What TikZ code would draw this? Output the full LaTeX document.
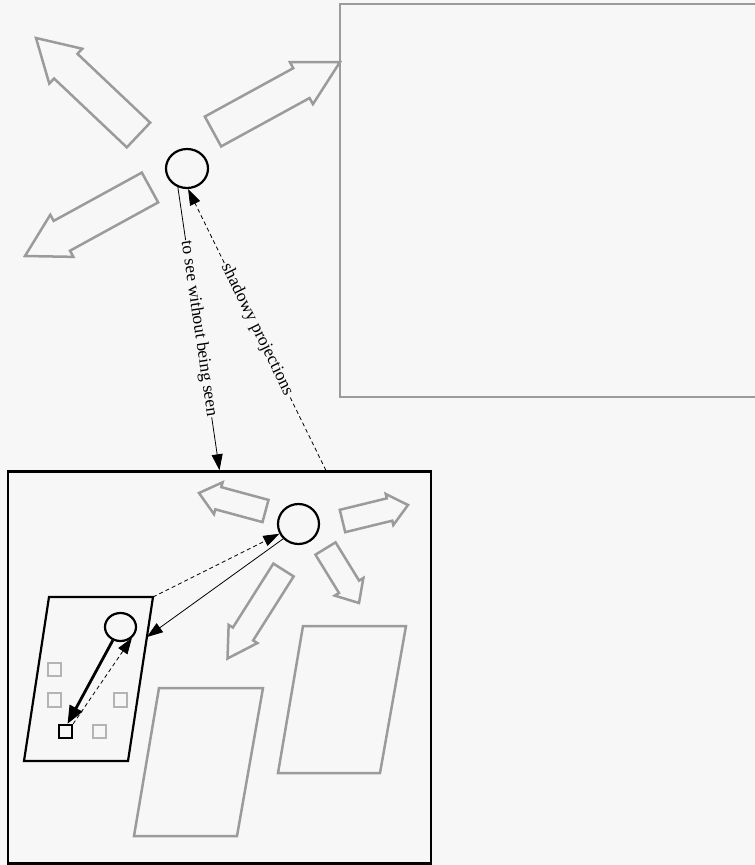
\documentclass[tikz,border=0pt]{standalone}
\usepackage{fontspec}
\setmainfont{Liberation Serif}
\usetikzlibrary{calc,arrows.meta,shapes.geometric}
\definecolor{bgc}{RGB}{247,247,247}
\definecolor{lgray}{RGB}{155,155,155}
\definecolor{sqgray}{RGB}{180,180,180}
\tikzset{
  garrow/.style={draw=lgray,line width=2.5pt},
  gshape/.style={draw=lgray,line width=2.5pt},
  blk/.style={draw=black,line width=2.2pt},
  oval/.style={ellipse,draw=black,line width=2.2pt,inner sep=0pt},
  conn/.style={line width=0.8pt,-{Triangle[length=16pt,width=11pt]}},
  dconn/.style={conn,dash pattern=on 4pt off 3pt},
  lbl/.style={fill=bgc,inner sep=1pt,font=\fontsize{17.5}{18}\selectfont,sloped},
  gsq/.style={draw=sqgray,line width=1.8pt,minimum size=13.5pt,inner sep=0pt},
  bsq/.style={draw=black,line width=2.2pt,minimum size=13pt,inner sep=0pt}
}
\newcommand\blockarrow[5]{%
  \coordinate (bat) at (#1);
  \coordinate (bap) at (#2);
  \coordinate (bah) at ($(bap)!#5!(bat)$);
  \draw[garrow] ($(bat)!#3!90:(bap)$) -- ($(bah)!#3!90:(bap)$) -- ($(bah)!#4!90:(bap)$) -- (bap) -- ($(bah)!#4!-90:(bap)$) -- ($(bah)!#3!-90:(bap)$) -- ($(bat)!#3!-90:(bap)$) -- cycle;
}
\begin{document}
\begin{tikzpicture}[x=1pt,y=-1pt]
\fill[bgc] (0,0) rectangle (755,865);
\useasboundingbox (0,0) rectangle (755,865);

% big gray rectangle top right
\draw[gshape] (340,4) rectangle (758,397);

% top arrows
\blockarrow{138.5,135}{36,38}{17pt}{24pt}{41pt}
\blockarrow{213,131.5}{340,62}{17pt}{24pt}{44pt}
\blockarrow{150,187.5}{25,256}{17pt}{24pt}{42pt}

% top circle
\node[oval,minimum width=42pt,minimum height=39pt] (tc) at (187,168.5) {};

% bottom box
\node[draw=black,line width=2.5pt,inner sep=0pt,minimum width=423pt,minimum height=392pt] (box) at (219.5,667.5) {};
\coordinate (bxd) at ($(box.north)!0.5!(box.north east)$);

% top connectors
\draw[conn] (tc.-116) -- node[lbl] {to see without being seen} (box.north);
\draw[dconn] (bxd) -- node[lbl] {shadowy projections} (tc.-87);

% bottom arrows
\blockarrow{265.5,511}{199,493}{11.5pt}{16.5pt}{20pt}
\blockarrow{342.5,521}{408,505}{11.5pt}{16pt}{19pt}
\blockarrow{325.5,548.5}{359,603}{11.8pt}{16.8pt}{19pt}
\blockarrow{283.5,570}{227.5,658.5}{12pt}{17pt}{29pt}

% gray parallelograms
\draw[gshape] (159,688) -- (263,688) -- (237,836) -- (134,836) -- cycle;
\draw[gshape] (303,626) -- (406,626) -- (380,773) -- (278,773) -- cycle;

% bottom circle
\node[oval,minimum width=41pt,minimum height=40pt] (bc) at (298.5,524) {};

% black parallelogram
\coordinate (ptl) at (49,597);
\coordinate (ptr) at (153,597);
\coordinate (pbr) at (128,761);
\coordinate (pbl) at (24,761);
\draw[blk] (ptl) -- (ptr) -- (pbr) -- (pbl) -- cycle;
\coordinate (pedge) at ($(ptr)!0.244!(pbr)$);

% connectors circle <-> parallelogram
\draw[conn] (bc.224) -- (pedge);
\draw[dconn] (ptr) -- (bc.207);

% squares
\node[gsq] (g1) at (54.5,669.5) {};
\node[gsq] (g2) at (54.5,700) {};
\node[gsq] (g3) at (120.5,700) {};
\node[gsq] (g4) at (99.5,731.5) {};
\node[bsq] (sq) at (65.5,731.5) {};

% small circle
\node[oval,minimum width=31pt,minimum height=28pt] (sc) at (120.5,627) {};

% inner connectors
\draw[line width=2.8pt,-{Triangle[length=18pt,width=14pt]}] (sc.-120) -- ($(sq.north)+(2,0)$);
\draw[dconn] (sq.north east) -- (sc.-44);
\end{tikzpicture}
\end{document}
